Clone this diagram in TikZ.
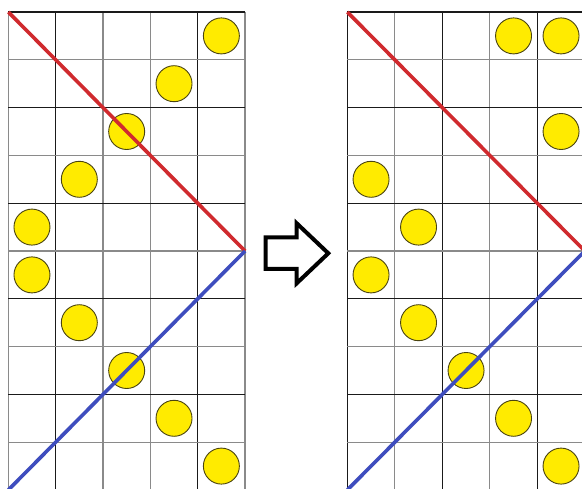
\documentclass[tikz,border=0pt]{standalone}
\definecolor{gridgray}{HTML}{8A8A8A}
\definecolor{gridblack}{HTML}{1A1A1A}
\definecolor{diagred}{HTML}{D02A2E}
\definecolor{diagblue}{HTML}{3E4DBE}
\definecolor{coinyellow}{HTML}{FFEB00}
\definecolor{coinedge}{HTML}{4A4410}
\tikzset{
  coin/.style={circle, inner sep=0pt, minimum size=36pt, fill=coinyellow, draw=coinedge, line width=0.9pt},
  gline/.style={line width=1.3pt},
  diag/.style={line width=3.6pt},
  bigarrow/.style={draw=black, line width=4pt, line join=miter, fill=white}
}
\begin{document}
\begin{tikzpicture}[x=1pt,y=-1pt]
\useasboundingbox (0,0) rectangle (582,489);
\clip (0,0) rectangle (582,489);
\fill[white] (0,0) rectangle (582,489);
% ---------- left grid ----------
\def\lx{8.3}\def\gy{12}\def\cw{47.35}\def\ch{47.8}
\foreach \i/\c in {0/gridgray,1/gridblack,2/gridgray,3/gridgray,4/gridblack,5/gridgray}
  \draw[gline,\c] (\lx+\i*\cw,\gy) -- (\lx+\i*\cw,\gy+10*\ch);
\foreach \j in {0,...,10}{
  \pgfmathtruncatemacro{\odd}{mod(\j,2)}
  \ifnum\odd=0 \def\cc{gridblack}\else\def\cc{gridgray}\fi
  \draw[gline,\cc] (\lx,\gy+\j*\ch) -- (\lx+5*\cw,\gy+\j*\ch);
}
% ---------- right grid ----------
\def\rx{347.3}\def\rw{47.5}
\foreach \i/\c in {0/gridblack,1/gridgray,2/gridblack,3/gridgray,4/gridblack,5/gridgray}
  \draw[gline,\c] (\rx+\i*\rw,\gy) -- (\rx+\i*\rw,\gy+10*\ch);
\foreach \j in {0,...,10}{
  \pgfmathtruncatemacro{\odd}{mod(\j,2)}
  \ifnum\odd=0 \def\cc{gridblack}\else\def\cc{gridgray}\fi
  \draw[gline,\cc] (\rx,\gy+\j*\ch) -- (\rx+5*\rw,\gy+\j*\ch);
}
% ---------- coins left ----------
\foreach \r/\c in {1/5,2/4,3/3,4/2,5/1,6/1,7/2,8/3,9/4,10/5}
  \node[coin] (L\r) at (\lx+\c*\cw-0.5*\cw,\gy+\r*\ch-0.5*\ch) {};
% ---------- coins right ----------
\foreach \n/\r/\c in {a/1/4,b/1/5,c/3/5,d/4/1,e/5/2,f/6/1,g/7/2,h/8/3,i/9/4,j/10/5}
  \node[coin] (R\n) at (\rx+\c*\rw-0.5*\rw,\gy+\r*\ch-0.5*\ch) {};
% ---------- diagonals ----------
\coordinate (LT) at (\lx,\gy);
\coordinate (LM) at (\lx+5*\cw,\gy+5*\ch);
\coordinate (LB) at (\lx,\gy+10*\ch);
\coordinate (RT) at (\rx,\gy);
\coordinate (RM) at (\rx+5*\rw,\gy+5*\ch);
\coordinate (RB) at (\rx,\gy+10*\ch);
\draw[diag,diagred] (LT) -- (LM);
\draw[diag,diagblue] (LM) -- (LB);
\draw[diag,diagred] (RT) -- (RM);
\draw[diag,diagblue] (RM) -- (RB);
% ---------- arrow ----------
\draw[bigarrow] (265.7,237.3) -- (296.7,237.3) -- (296.7,223.3) -- (328.3,253.3)
  -- (296.7,283.3) -- (296.7,269) -- (265.7,269) -- cycle;
\end{tikzpicture}
\end{document}
